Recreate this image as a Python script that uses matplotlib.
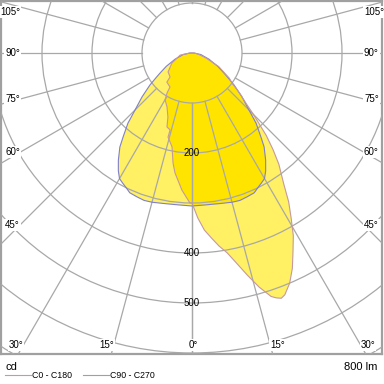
import numpy as np
import matplotlib
matplotlib.use("Agg")
import matplotlib.pyplot as plt
from matplotlib.patches import Polygon, Circle

plt.rcParams['font.family'] = ['Liberation Sans', 'DejaVu Sans']

# ---- data (cd), gamma in degrees from nadir ----
gamma_c0 = [0, 2, 4, 6, 8, 10, 12, 14, 16, 18, 19, 20, 21, 23, 25, 27, 29, 31, 33, 35, 38, 40, 42, 45, 47, 50, 53, 56, 60, 63, 70, 80, 90]
cd_c0 = [300, 330, 355, 372, 390, 406, 430, 458, 487, 512, 518, 522, 518, 500, 475, 445, 418, 385, 355, 320, 282, 252, 222, 174, 148, 124, 100, 90, 70, 60, 30, 12, 4]

gamma_c180 = [0.8, 4.2, 8.1, 9.8, 12, 15.9, 15.9, 18.7, 20.6, 24.8, 29.9, 32, 32.9, 40.8, 42.5, 51.6, 63.4, 80, 90]
cd_c180 = [300, 275, 242, 223, 192, 175, 160, 156, 137, 119, 108, 94, 81, 77, 65, 61, 45, 24, 4]

gamma_c90 = [0, 5, 10, 15, 18, 21, 24, 26, 28, 30, 32, 34.5, 37.5, 39.4, 42.4, 45, 48.7, 52.7, 55.6, 58, 62.6, 70, 80, 90]
cd_c90 = [306, 305, 306, 309, 310, 308, 306, 300, 295, 290, 278, 260, 237, 217, 190, 161, 133, 106, 87, 75, 58, 36, 18, 4]
cd_c270 = cd_c90

circle_values = [100, 200, 300, 400, 500, 600, 700]
cd_labels = [200, 400, 500]
angle_ticks = [0, 15, 30, 45, 60, 75, 90, 105, 120, 135, 150, 165, 180]
angle_labels = [0, 15, 30, 45, 60, 75, 90, 105]
legend_names = ["C0 - C180", "C90 - C270"]
flux_text = "800 lm"
unit_text = "cd"

LIGHT = "#FFF064"
DARK = "#FFE400"
C_PINK = "#C49A9E"
C_BLUE = "#8080C8"
GRID = "#A8A8A8"

def xy(gam, val, side):
    g = np.radians(np.asarray(gam, float))
    v = np.asarray(val, float)
    return side * v * np.sin(g), -v * np.cos(g)

def curve(gr, vr, gl, vl):
    xr, yr = xy(gr, vr, 1)
    xl, yl = xy(gl, vl, -1)
    xs = np.concatenate([xr[::-1], xl])
    ys = np.concatenate([yr[::-1], yl])
    return np.column_stack([xs, ys])

fig = plt.figure(figsize=(3.84, 3.84), dpi=100)
W = H = 384.0
ax = fig.add_axes([1 / W, (384 - 354) / H, 381 / W, 353 / H])
ax.set_xlim(-382, 380)
ax.set_ylim(-602, 104)
ax.set_xticks([]); ax.set_yticks([])
for s in ax.spines.values():
    s.set_color("#A0A0A0"); s.set_linewidth(1.6)

pP = curve(gamma_c0, cd_c0, gamma_c180, cd_c180)
pB = curve(gamma_c90, cd_c90, gamma_c90, cd_c270)

polyP = Polygon(pP, closed=True, facecolor=LIGHT, edgecolor="none", zorder=1)
polyB = Polygon(pB, closed=True, facecolor=LIGHT, edgecolor="none", zorder=1)
ax.add_patch(polyP); ax.add_patch(polyB)
polyBd = Polygon(pB, closed=True, facecolor=DARK, edgecolor="none", zorder=2)
ax.add_patch(polyBd)
polyBd.set_clip_path(polyP)

# grid
for v in circle_values:
    ax.add_patch(Circle((0, 0), v, fill=False, edgecolor=GRID, lw=0.9, zorder=3))
for a in angle_ticks:
    for side in (1, -1):
        g = np.radians(a)
        ax.plot([side * 100 * np.sin(g), side * 1200 * np.sin(g)],
                [-100 * np.cos(g), -1200 * np.cos(g)], color=GRID, lw=0.9, zorder=3)

# outlines
ax.add_patch(Polygon(pB, closed=True, fill=False, edgecolor=C_BLUE, lw=0.8, zorder=4))
ax.add_patch(Polygon(pP, closed=True, fill=False, edgecolor=C_PINK, lw=0.8, zorder=4))

# cd labels
for v in cd_labels:
    ax.text(0, -v, str(v), ha="center", va="center", fontsize=7, zorder=5)

# angle labels
bb = dict(facecolor="white", edgecolor="none", pad=0.6)
for a in angle_labels:
    t = np.tan(np.radians(a)) if a != 90 else np.inf
    if a <= 30:
        xb = 584 * t
        yb = -584
        if a == 0:
            ax.text(2, yb, "0°", ha="center", va="center", fontsize=7, bbox=bb, zorder=6)
        else:
            ax.text(-xb, yb, f"{a}°", ha="right", va="center", fontsize=7, bbox=bb, zorder=6)
            ax.text(xb, yb, f"{a}°", ha="left", va="center", fontsize=7, bbox=bb, zorder=6)
    else:
        yb = 0 if a == 90 else -344 / t
        yb = min(yb, 82)
        ax.text(-344, yb, f"{a}°", ha="right", va="center", fontsize=7, bbox=bb, zorder=6)
        ax.text(344, yb, f"{a}°", ha="left", va="center", fontsize=7, bbox=bb, zorder=6)

# bottom texts
fig.text(6 / W, 1 - 367 / H, unit_text, ha="left", va="center", fontsize=8)
fig.text(377 / W, 1 - 367 / H, flux_text, ha="right", va="center", fontsize=8)
fig.add_artist(plt.Line2D([5 / W, 31 / W], [1 - 375 / H] * 2, color=C_PINK, lw=0.8))
fig.text(32 / W, 1 - 375 / H, legend_names[0], ha="left", va="center", fontsize=6.3)
fig.add_artist(plt.Line2D([83 / W, 109 / W], [1 - 375 / H] * 2, color="#A0A0A0", lw=0.8))
fig.text(110 / W, 1 - 375 / H, legend_names[1], ha="left", va="center", fontsize=6.3)

fig.savefig("out.png", dpi=100)
